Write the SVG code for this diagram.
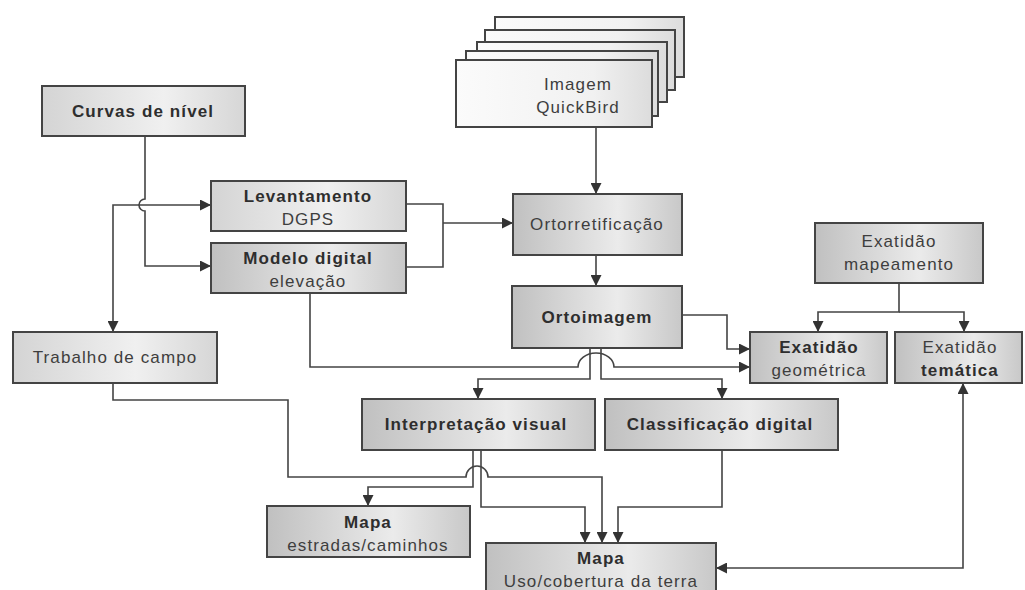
<svg xmlns="http://www.w3.org/2000/svg" width="1025" height="590" viewBox="0 0 1025 590">
  <defs>
    <linearGradient id="gBox" x1="0" y1="0" x2="1" y2="0">
      <stop offset="0" stop-color="#c0c0c0"/>
      <stop offset="0.62" stop-color="#ebebeb"/>
      <stop offset="1" stop-color="#c8c8c8"/>
    </linearGradient>
    <linearGradient id="gLight" x1="0" y1="0" x2="1" y2="0">
      <stop offset="0" stop-color="#d4d4d4"/>
      <stop offset="0.6" stop-color="#f0f0f0"/>
      <stop offset="1" stop-color="#d6d6d6"/>
    </linearGradient>
    <linearGradient id="gSheet" x1="0" y1="0" x2="1" y2="0">
      <stop offset="0" stop-color="#fbfbfb"/>
      <stop offset="0.7" stop-color="#f1f1f1"/>
      <stop offset="1" stop-color="#dcdcdc"/>
    </linearGradient>
    <marker id="arrow" viewBox="0 0 10 10" refX="10" refY="5" markerWidth="11" markerHeight="11" markerUnits="userSpaceOnUse" orient="auto-start-reverse">
      <path d="M0,0 L10,5 L0,10 z" fill="#333"/>
    </marker>
    <style>
      .box { fill: url(#gBox); stroke: #444; stroke-width: 2; }
      .boxL { fill: url(#gLight); stroke: #444; stroke-width: 2; }
      .sheet { fill: url(#gSheet); stroke: #444; stroke-width: 2; }
      text { font-family: "Liberation Sans", Arial, sans-serif; font-size: 17px; text-anchor: middle; letter-spacing: 1.1px; }
      .b { font-weight: bold; fill: #2e2e2e; }
      .n { fill: #3e3e3e; }
      .wire { fill: none; stroke: #444; stroke-width: 1.6; }
      .arr { marker-end: url(#arrow); }
      .arr2 { marker-start: url(#arrow); marker-end: url(#arrow); }
    </style>
  </defs>

  <!-- connectors -->
  <g id="connectors">
    <!-- contour lines down to the elevation model, hopping over the survey line -->
    <path class="wire arr" d="M145 136 V199 A6 6 0 0 0 145 211 V266 H211"/>
    <!-- field work <-> DGPS survey -->
    <path class="wire arr2" d="M113 332 V205 H211"/>
    <!-- survey and elevation model join into orthorectification -->
    <path class="wire" d="M406 204 H443 V267 H406"/>
    <path class="wire arr" d="M443 223 H513"/>
    <!-- QuickBird image -> orthorectification -> ortho image -->
    <path class="wire arr" d="M596 127 V194"/>
    <path class="wire arr" d="M596 255 V286"/>
    <!-- ortho image -> geometric accuracy -->
    <path class="wire arr" d="M682 315 H727 V349 H750"/>
    <!-- elevation model -> geometric accuracy, hopping over the ortho image branches -->
    <path class="wire arr" d="M310 293 V367 H578 A18 14 0 0 1 614 367 H750"/>
    <!-- ortho image -> visual interpretation / digital classification -->
    <path class="wire arr" d="M590 348 V379 H478 V399"/>
    <path class="wire arr" d="M601 348 V379 H722 V399"/>
    <!-- mapping accuracy -> geometric / thematic accuracy -->
    <path class="wire arr" d="M899 283 V312 H818 V332"/>
    <path class="wire arr" d="M899 312 H964 V332"/>
    <!-- field work -> land use map, hopping over the interpretation outputs -->
    <path class="wire arr" d="M113 383 V400 H288 V477 H466 A11 11 0 0 1 488 477 H602 V543"/>
    <!-- visual interpretation -> roads map / land use map -->
    <path class="wire arr" d="M473 450 V487 H368 V506"/>
    <path class="wire arr" d="M481 450 V507 H585 V543"/>
    <!-- digital classification -> land use map -->
    <path class="wire arr" d="M722 450 V507 H618 V543"/>
    <!-- thematic accuracy <-> land use map -->
    <path class="wire arr2" d="M963 383 V568 H716"/>
  </g>

  <!-- nodes -->
  <g id="imagem-quickbird">
    <rect class="sheet" x="495" y="17" width="189" height="60"/>
    <rect class="sheet" x="485" y="30" width="190" height="60"/>
    <rect class="sheet" x="477" y="42" width="190" height="60"/>
    <rect class="sheet" x="466" y="51" width="192" height="65"/>
    <rect class="sheet" x="456" y="60" width="196" height="67"/>
    <text class="n" x="578" y="90">Imagem</text>
    <text class="n" x="578" y="113">QuickBird</text>
  </g>

  <g id="curvas-de-nivel">
    <rect class="boxL" x="42" y="86" width="203" height="50"/>
    <text class="b" x="143" y="117">Curvas de nível</text>
  </g>

  <g id="levantamento-dgps">
    <rect class="boxL" x="211" y="181" width="195" height="50"/>
    <text class="b" x="308" y="202">Levantamento</text>
    <text class="n" x="308" y="225">DGPS</text>
  </g>

  <g id="modelo-digital">
    <rect class="box" x="211" y="243" width="195" height="50"/>
    <text class="b" x="308" y="264">Modelo digital</text>
    <text class="n" x="308" y="287">elevação</text>
  </g>

  <g id="ortorretificacao">
    <rect class="box" x="513" y="194" width="169" height="61"/>
    <text class="n" x="597" y="230">Ortorretificação</text>
  </g>

  <g id="ortoimagem">
    <rect class="box" x="512" y="286" width="170" height="62"/>
    <text class="b" x="597" y="323">Ortoimagem</text>
  </g>

  <g id="trabalho-de-campo">
    <rect class="boxL" x="13" y="332" width="204" height="51"/>
    <text class="n" x="115" y="363">Trabalho de campo</text>
  </g>

  <g id="exatidao-mapeamento">
    <rect class="box" x="815" y="223" width="168" height="60"/>
    <text class="n" x="899" y="247">Exatidão</text>
    <text class="n" x="899" y="270">mapeamento</text>
  </g>

  <g id="exatidao-geometrica">
    <rect class="box" x="750" y="332" width="137" height="51"/>
    <text class="b" x="819" y="353">Exatidão</text>
    <text class="n" x="819" y="376">geométrica</text>
  </g>

  <g id="exatidao-tematica">
    <rect class="box" x="895" y="332" width="127" height="51"/>
    <text class="n" x="960" y="353">Exatidão</text>
    <text class="b" x="960" y="376">temática</text>
  </g>

  <g id="interpretacao-visual">
    <rect class="box" x="362" y="399" width="233" height="51"/>
    <text class="b" x="476" y="430">Interpretação visual</text>
  </g>

  <g id="classificacao-digital">
    <rect class="box" x="605" y="399" width="233" height="51"/>
    <text class="b" x="720" y="430">Classificação digital</text>
  </g>

  <g id="mapa-estradas">
    <rect class="box" x="267" y="506" width="203" height="51"/>
    <text class="b" x="368" y="528">Mapa</text>
    <text class="n" x="368" y="551">estradas/caminhos</text>
  </g>

  <g id="mapa-uso">
    <rect class="box" x="486" y="543" width="230" height="52"/>
    <text class="b" x="601" y="564">Mapa</text>
    <text class="n" x="601" y="587">Uso/cobertura da terra</text>
  </g>
</svg>
